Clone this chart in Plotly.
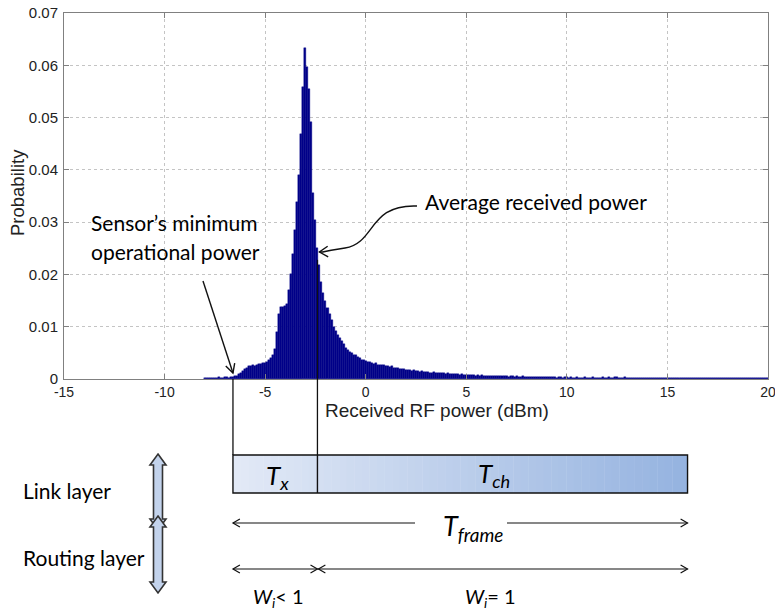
import math
import plotly.graph_objects as go

# ---------------- data ----------------
BIN_START = -8.0      # dBm, centre of first bin
BIN_WIDTH = 0.1       # dBm

tail_left = [0.0001, 0.0002, 0.0001, 0.0002, 0.0002, 0.0001, 0.0002, 0.0003,
             0.0002, 0.0002, 0.0003, 0.0003, 0.0002, 0.0004, 0.0004]          # -8.0 .. -6.6
rise = [0.0005, 0.0006, 0.0009, 0.0012, 0.0015, 0.0019, 0.0022, 0.0024, 0.0025,
        0.0026, 0.0025, 0.0027, 0.0029, 0.0028, 0.0030, 0.0031, 0.0033, 0.0036]  # -6.5 .. -4.8
peak = [0.0040, 0.0046, 0.0058, 0.0090, 0.0125, 0.0137, 0.0138, 0.0140, 0.0143,
        0.0170, 0.0200, 0.0240, 0.0285, 0.0339, 0.0390, 0.0468, 0.0559, 0.0633,
        0.0597, 0.0554, 0.0492, 0.0356]                                        # -4.7 .. -2.6
decay = [0.0304, 0.0250, 0.0218, 0.0185, 0.0165, 0.0150, 0.0135, 0.0125, 0.0112,
         0.0100, 0.0092, 0.0085, 0.0078, 0.0072, 0.0066, 0.0060, 0.0056, 0.0052,
         0.0050, 0.0046, 0.0045, 0.0042, 0.0040, 0.0037, 0.0036,                # -2.5 .. -0.1
         0.0034, 0.0032, 0.0033, 0.0030, 0.0029, 0.0030, 0.0027, 0.0026, 0.0027, 0.0026,  # 0.0 .. 0.9
         0.0025, 0.0024, 0.0023, 0.0024, 0.0022, 0.0021, 0.0022, 0.0020, 0.0019, 0.0020,  # 1.0 .. 1.9
         0.0018, 0.0017, 0.0017, 0.0016, 0.0017, 0.0015, 0.0015, 0.0014, 0.0015, 0.0013,  # 2.0 .. 2.9
         0.0013, 0.0014, 0.0012, 0.0012, 0.0013, 0.0011, 0.0012, 0.0011, 0.0011, 0.0012,  # 3.0 .. 3.9
         0.0010, 0.0011, 0.0010, 0.0009, 0.0010, 0.0009, 0.0010, 0.0008, 0.0009, 0.0008,
         0.0008]                                                                # 4.0 .. 5.0
tail_mid = [0.0007, 0.0008, 0.0007, 0.0007, 0.0006, 0.0007, 0.0006, 0.0007, 0.0006,
            0.0006, 0.0005, 0.0006, 0.0006, 0.0005, 0.0006, 0.0005, 0.0005, 0.0006, 0.0005,
            0.0005, 0.0004, 0.0005, 0.0005, 0.0004, 0.0005, 0.0004, 0.0004, 0.0005, 0.0004,
            0.0004, 0.0004, 0.0003, 0.0004, 0.0004, 0.0003, 0.0004, 0.0003, 0.0003, 0.0004,
            0.0003, 0.0003, 0.0004, 0.0003, 0.0003, 0.0002, 0.0003, 0.0003, 0.0002, 0.0003,
            0.0003]                                                             # 5.1 .. 10.0
tail_far = [0.0002, 0.0003, 0.0002, 0.0002, 0.0003, 0.0002, 0.0002, 0.0002, 0.0003, 0.0002,
            0.0002, 0.0002, 0.0003, 0.0002, 0.0002, 0.0002, 0.0002, 0.0003, 0.0002, 0.0002,
            0.0003, 0.0002, 0.0002, 0.0003, 0.0003, 0.0002, 0.0002, 0.0002, 0.0003, 0.0002,
            0.0002, 0.0002, 0.0001, 0.0002, 0.0002, 0.0002, 0.0001, 0.0002, 0.0002, 0.0002,
            0.0002, 0.0001, 0.0002, 0.0002, 0.0001, 0.0002, 0.0002, 0.0001, 0.0002, 0.0002,
            0.0002, 0.0002, 0.0001, 0.0002, 0.0001, 0.0002, 0.0002, 0.0001, 0.0001, 0.0002,
            0.0001, 0.0002, 0.0001, 0.0001, 0.0002, 0.0001, 0.0001, 0.0002, 0.0001, 0.0001,
            0.0001, 0.0002, 0.0001, 0.0001, 0.0001, 0.0002, 0.0001, 0.0001, 0.0001, 0.0001,
            0.0002, 0.0001, 0.0001, 0.0001, 0.0001, 0.0001, 0.0002, 0.0001, 0.0001, 0.0001,
            0.0001, 0.0001, 0.0001, 0.0002, 0.0001, 0.0001, 0.0001, 0.0001, 0.0001, 0.0001]  # 10.1 .. 20.0

probability = tail_left + rise + peak + decay + tail_mid + tail_far
power_dbm = [round(BIN_START + BIN_WIDTH * i, 1) for i in range(len(probability))]

x_ticks = [-15, -10, -5, 0, 5, 10, 15, 20]
x_ticktext = ["-15", "-10", "-5", "0", "5", "10", "15", "20"]
y_ticks = [0, 0.01, 0.02, 0.03, 0.04, 0.05, 0.06, 0.07]
y_ticktext = ["0", "0.01", "0.02", "0.03", "0.04", "0.05", "0.06", "0.07"]

MIN_POWER = -6.6        # sensor's minimum operational power (dBm)
AVG_POWER = -2.4        # average received power (dBm)
AVG_MARK_PROB = 0.0228  # where the average-power marker starts
FRAME_END = 16.0        # end of the frame bar (in dBm-axis units)

XMIN, XMAX = -15, 20
YMIN, YMAX = 0, 0.07

# ---------------- geometry helpers ----------------
W, H = 775, 611
ML, MR, MT, MB = 64, 7, 13, 232
PW, PH = W - ML - MR, H - MT - MB


def px(x):
    return (x - ML) / PW


def py(y):
    return (H - MB - y) / PH


def xpix(v):
    return ML + (v - XMIN) / (XMAX - XMIN) * PW


def pth(points, close=False):
    s = "M " + " L ".join(f"{px(a):.5f},{py(b):.5f}" for a, b in points)
    return s + (" Z" if close else "")


def chevron(tx, ty, dx, dy, L=8, ang=30):
    n = math.hypot(dx, dy)
    ux, uy = dx / n, dy / n
    pts = []
    for s in (1, -1):
        a = math.radians(ang) * s
        rx = -ux * math.cos(a) + uy * math.sin(a)
        ry = -ux * math.sin(a) - uy * math.cos(a)
        pts.append((tx + rx * L, ty + ry * L))
    return pth([pts[0], (tx, ty), pts[1]])


BLACK = "#111111"
shapes = []


def line_shape(path, width=1.2, color=BLACK):
    shapes.append(dict(type="path", xref="paper", yref="paper", path=path,
                       line=dict(color=color, width=width)))


# ---------------- figure ----------------
fig = go.Figure()
fig.add_trace(go.Bar(x=power_dbm, y=probability, width=BIN_WIDTH,
                     marker=dict(color="#000088", line=dict(color="#000088", width=0.4)),
                     hoverinfo="x+y"))

BOX_TOP, BOX_BOT = 455, 493
x_min_px, x_avg_px, x_end_px = xpix(MIN_POWER), xpix(AVG_POWER), xpix(FRAME_END)

# vertical marker lines
shapes.append(dict(type="line", xref="x", yref="paper", x0=MIN_POWER, x1=MIN_POWER,
                   y0=0, y1=py(BOX_TOP), line=dict(color=BLACK, width=1.3)))
shapes.append(dict(type="line", xref="x", yref="paper", x0=AVG_POWER, x1=AVG_POWER,
                   y0=(AVG_MARK_PROB - YMIN) / (YMAX - YMIN), y1=py(BOX_TOP),
                   line=dict(color=BLACK, width=1.3)))

# gradient frame bar
N = 60
c0, c1 = (226, 233, 246), (149, 179, 224)
for i in range(N):
    t = i / (N - 1)
    col = tuple(round(c0[k] + (c1[k] - c0[k]) * t) for k in range(3))
    a = MIN_POWER + (FRAME_END - MIN_POWER) * i / N
    b = MIN_POWER + (FRAME_END - MIN_POWER) * (i + 1) / N + 0.02
    shapes.append(dict(type="rect", xref="x", yref="paper", x0=a, x1=min(b, FRAME_END),
                       y0=py(BOX_BOT), y1=py(BOX_TOP), line=dict(width=0),
                       fillcolor=f"rgb{col}", layer="above"))
shapes.append(dict(type="rect", xref="x", yref="paper", x0=MIN_POWER, x1=FRAME_END,
                   y0=py(BOX_BOT), y1=py(BOX_TOP), line=dict(color=BLACK, width=1.4)))
shapes.append(dict(type="line", xref="x", yref="paper", x0=AVG_POWER, x1=AVG_POWER,
                   y0=py(BOX_BOT), y1=py(BOX_TOP), line=dict(color=BLACK, width=1.4)))

# T_frame arrow
YF = 523
line_shape(pth([(x_min_px, YF), (415, YF)]))
line_shape(pth([(507, YF), (x_end_px, YF)]))
line_shape(chevron(x_min_px, YF, -1, 0))
line_shape(chevron(x_end_px, YF, 1, 0))

# W arrows
YW = 569
line_shape(pth([(x_min_px, YW), (x_avg_px, YW)]))
line_shape(pth([(x_avg_px, YW), (x_end_px, YW)]))
line_shape(chevron(x_min_px, YW, -1, 0))
line_shape(chevron(x_avg_px, YW, 1, 0))
line_shape(chevron(x_avg_px + 1, YW, -1, 0))
line_shape(chevron(x_end_px, YW, 1, 0))

# curved arrow to average power
tipx, tipy = x_avg_px + 2, 252
curve = (f"M {px(417):.5f},{py(206):.5f} C {px(368):.5f},{py(204):.5f} "
         f"{px(376):.5f},{py(243):.5f} {px(345):.5f},{py(248):.5f} "
         f"S {px(326):.5f},{py(252):.5f} {px(tipx):.5f},{py(tipy):.5f}")
line_shape(curve, width=1.4)
line_shape(chevron(tipx, tipy, -1, 0.05, L=10, ang=32), width=1.4)

# straight arrow to min power
sx, sy, ex, ey = 203, 281, x_min_px, 373
line_shape(pth([(sx, sy), (ex, ey)]), width=1.4)
line_shape(chevron(ex, ey, ex - sx, ey - sy, L=10, ang=28), width=1.4)


# block double arrows (link / routing layer)
def block_arrow(cx, ytop, ybot, hw=8, sw=4.5, hl=11):
    pts = [(cx, ytop), (cx + hw, ytop + hl), (cx + sw, ytop + hl), (cx + sw, ybot - hl),
           (cx + hw, ybot - hl), (cx, ybot), (cx - hw, ybot - hl), (cx - sw, ybot - hl),
           (cx - sw, ytop + hl), (cx - hw, ytop + hl)]
    shapes.append(dict(type="path", xref="paper", yref="paper", path=pth(pts, True),
                       fillcolor="#c3d3ec", line=dict(color="#333333", width=1.6)))


block_arrow(158, 454, 530)
block_arrow(158, 516, 593)

# ---------------- annotations ----------------
DIAG_FONT = "Lato, 'Noto Sans', sans-serif"
ann = []


def text(x, y, s, size=18, xanchor="center"):
    ann.append(dict(x=px(x), y=py(y), xref="paper", yref="paper", text=s, showarrow=False,
                    xanchor=xanchor, yanchor="middle",
                    font=dict(family=DIAG_FONT, size=size, color="#000000")))


text(423, 201, "Average received power", size=21, xanchor="left")
text(89, 222, "Sensor’s minimum", size=21, xanchor="left")
text(89, 252, "operational power", size=21, xanchor="left")
text(277, 476, "<i>T<sub>x</sub></i>", size=26)
text(494, 474, "<i>T<sub>ch</sub></i>", size=26)
text(473, 527, "<i>T<sub>frame</sub></i>", size=27)
text(278, 597, "<i>W<sub>i</sub></i>< 1", size=20)
text(490, 597, "<i>W<sub>i</sub></i>= 1", size=20)
text(21, 490, "Link layer", size=21, xanchor="left")
text(21, 557, "Routing layer", size=21, xanchor="left")

AX_FONT = "'Liberation Sans', Arial, sans-serif"
ann.append(dict(x=px(437), y=py(410), xref="paper", yref="paper",
                text="Received RF power (dBm)", showarrow=False, xanchor="center",
                yanchor="middle", font=dict(family=AX_FONT, size=19, color="#222222")))
ann.append(dict(x=px(17), y=py(193), xref="paper", yref="paper", text="Probability",
                showarrow=False, textangle=-90, xanchor="center", yanchor="middle",
                font=dict(family=AX_FONT, size=18.5, color="#222222")))

axis_common = dict(ticks="inside", ticklen=5, tickcolor="#808080", showline=True,
                   linecolor="#808080", linewidth=1, mirror="ticks", showgrid=True,
                   gridcolor="#c4c4c4", griddash="dot", gridwidth=1, zeroline=False,
                   automargin=False, ticklabeloverflow="allow")

fig.update_layout(
    width=W, height=H,
    margin=dict(l=ML, r=MR, t=MT, b=MB, autoexpand=False),
    paper_bgcolor="white", plot_bgcolor="white",
    showlegend=False, bargap=0,
    xaxis=dict(range=[XMIN, XMAX], tickvals=x_ticks, ticktext=x_ticktext,
               ticklabelstandoff=0,
               tickfont=dict(family=AX_FONT, size=14, color="#222222"), **axis_common),
    yaxis=dict(range=[YMIN, YMAX], tickvals=y_ticks, ticktext=y_ticktext,
               ticklabelstandoff=2,
               tickfont=dict(family=AX_FONT, size=15, color="#222222"), **axis_common),
    shapes=shapes,
    annotations=ann,
)

fig.write_html("out.html",
               config={"displayModeBar": False},
               post_script="document.body.style.margin='0';"
                           "document.body.style.overflow='hidden';")
